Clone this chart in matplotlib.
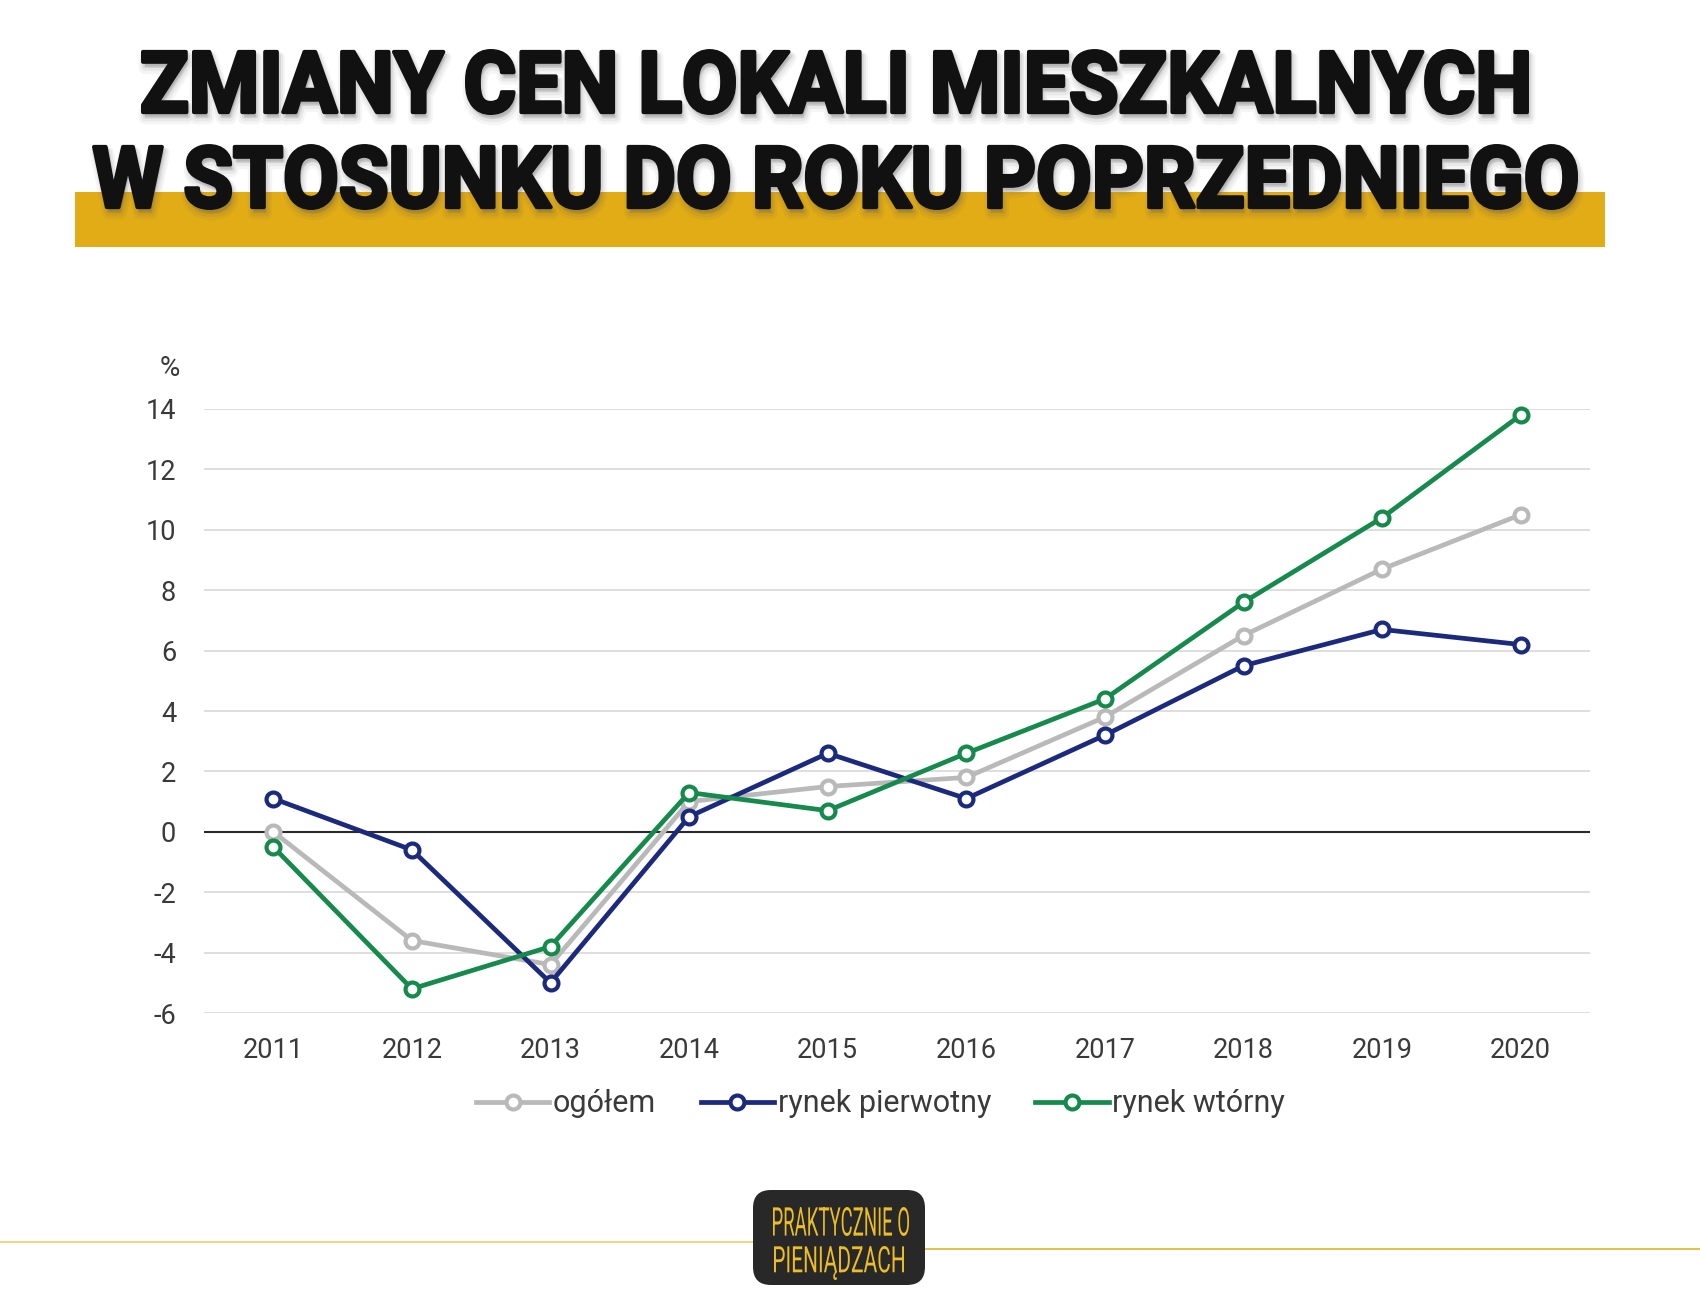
import matplotlib
matplotlib.use("Agg")
import matplotlib.pyplot as plt
import matplotlib.patheffects as pe
from matplotlib import font_manager as fm
from matplotlib.transforms import Affine2D, IdentityTransform
from matplotlib.patches import Rectangle, FancyBboxPatch
from matplotlib.lines import Line2D

# data
years = [2011, 2012, 2013, 2014, 2015, 2016, 2017, 2018, 2019, 2020]
ogolem = [0.0, -3.6, -4.4, 1.0, 1.5, 1.8, 3.8, 6.5, 8.7, 10.5]
pierwotny = [1.1, -0.6, -5.0, 0.5, 2.6, 1.1, 3.2, 5.5, 6.7, 6.2]
wtorny = [-0.5, -5.2, -3.8, 1.3, 0.7, 2.6, 4.4, 7.6, 10.4, 13.8]
y_ticks = [-6, -4, -2, 0, 2, 4, 6, 8, 10, 12, 14]
series_names = ["ogółem", "rynek pierwotny", "rynek wtórny"]
title_lines = ["ZMIANY CEN LOKALI MIESZKALNYCH", "W STOSUNKU DO ROKU POPRZEDNIEGO"]
logo_lines = ["PRAKTYCZNIE O", "PIENIĄDZACH"]

GRAY = "#b9b9b9"
BLUE = "#1b2a7c"
GREEN = "#168a4c"
GOLD = "#e2ac16"


def pick(names, weight="normal"):
    for n in names:
        try:
            fm.findfont(fm.FontProperties(family=n, weight=weight), fallback_to_default=False)
            return n
        except Exception:
            pass
    return "DejaVu Sans"


TITLE_FONT = pick(["Liberation Sans Narrow", "Roboto", "DejaVu Sans"], "bold")
TICK_FONT = pick(["Liberation Sans Narrow", "Roboto", "DejaVu Sans"])
LOGO_FONT = pick(["Roboto", "Open Sans", "DejaVu Sans"])


class FitBox(pe.AbstractPathEffect):
    # squeezes the glyphs of one text line into a pixel box (x0, y0, x1, y1)
    def __init__(self, box, stroke=0.0, shadow=False):
        super().__init__()
        self.box = box
        self.stroke = stroke
        self.shadow = shadow

    def draw_path(self, renderer, gc, tpath, affine, rgbFace=None):
        ext = tpath.get_extents(affine)
        x0, y0, x1, y1 = self.box
        h = self.stroke * renderer.points_to_pixels(1.0) / 2
        fit = affine + Affine2D().translate(-ext.x0, -ext.y0).scale(
            (x1 - x0 - 2 * h) / ext.width, (y1 - y0 - 2 * h) / ext.height).translate(x0 + h, y0 + h)
        if self.shadow:
            for lw, a, dy in [(9, 0.06, -6), (6, 0.08, -5), (3, 0.12, -4)]:
                g = renderer.new_gc()
                g.copy_properties(gc)
                g.set_foreground("#555555")
                g.set_alpha(a)
                g.set_linewidth(lw)
                renderer.draw_path(g, tpath, fit + Affine2D().translate(2, dy), (0.33, 0.33, 0.33))
                g.restore()
        g = renderer.new_gc()
        g.copy_properties(gc)
        g.set_foreground(rgbFace)
        g.set_linewidth(self.stroke)
        renderer.draw_path(g, tpath, fit, rgbFace)
        g.restore()


fig = plt.figure(figsize=(17, 13), dpi=100)
W, H = 1700, 1300

# title band
fig.add_artist(Rectangle((75 / W, 1053 / H), 1530 / W, 55 / H, transform=fig.transFigure,
                         facecolor=GOLD, edgecolor="none", zorder=1))
title_boxes = [(141, 1185, 1529, 1251), (92, 1090, 1578, 1156)]
for txt, box in zip(title_lines, title_boxes):
    fig.text(box[0] / W, box[1] / H, txt, fontsize=60, fontweight="bold", family=TITLE_FONT,
             color="#111111", zorder=3,
             path_effects=[FitBox(box, stroke=2.8, shadow=True)])

# chart
ax = fig.add_axes([204 / W, 287 / H, 1386 / W, 604 / H])
style = dict(lw=3.4, marker="o", ms=10, mfc="white", mew=3, clip_on=False)
ax.plot(years, ogolem, color=GRAY, label=series_names[0], zorder=3, **style)
ax.plot(years, pierwotny, color=BLUE, label=series_names[1], zorder=4, **style)
ax.plot(years, wtorny, color=GREEN, label=series_names[2], zorder=5, **style)

ax.set_xlim(2010.5, 2020.5)
ax.set_ylim(-6, 14)
ax.set_xticks(years)
ax.set_yticks(y_ticks)
ax.set_yticklabels([str(t) for t in y_ticks])
for s in ax.spines.values():
    s.set_visible(False)
ax.grid(axis="y", color="#dedede", lw=1.4, zorder=0)
ax.axhline(0, color="#2a2a2a", lw=1.5, zorder=2)
ax.tick_params(length=0, labelsize=19.5, labelcolor="#3a3a3a")
ax.tick_params(axis="y", pad=20)
ax.tick_params(axis="x", pad=17)
for lab in ax.get_xticklabels() + ax.get_yticklabels():
    lab.set_family(TICK_FONT)
fig.text(170 / W, 932 / H, "%", fontsize=20, family=TICK_FONT, color="#3a3a3a",
         ha="center", va="center")

fig.legend(loc="center", bbox_to_anchor=(0.518, 196 / H), ncol=3, frameon=False,
           prop={"family": TICK_FONT, "size": 22}, labelcolor="#3a3a3a",
           handlelength=2.4, handletextpad=0.12, columnspacing=1.45)

# logo and footer line
fig.add_artist(Line2D([0, 753 / W], [58 / H, 58 / H], color="#f1d27c", lw=1.3))
fig.add_artist(Line2D([925 / W, 1], [51 / H, 51 / H], color="#e8b93a", lw=1.3))
fig.add_artist(FancyBboxPatch((771, 33), 136, 59, boxstyle="round,pad=18,rounding_size=18",
                              transform=IdentityTransform(), facecolor="#282828",
                              edgecolor="none", zorder=4))
logo_boxes = [(773, 64, 909, 93), (774, 20, 904, 54)]
for txt, box in zip(logo_lines, logo_boxes):
    fig.text(box[0] / W, box[1] / H, txt, fontsize=20, family=LOGO_FONT,
             color="#ecbd26", zorder=5, path_effects=[FitBox(box, stroke=0.0)])

fig.savefig("out.png", dpi=100, facecolor="white")
